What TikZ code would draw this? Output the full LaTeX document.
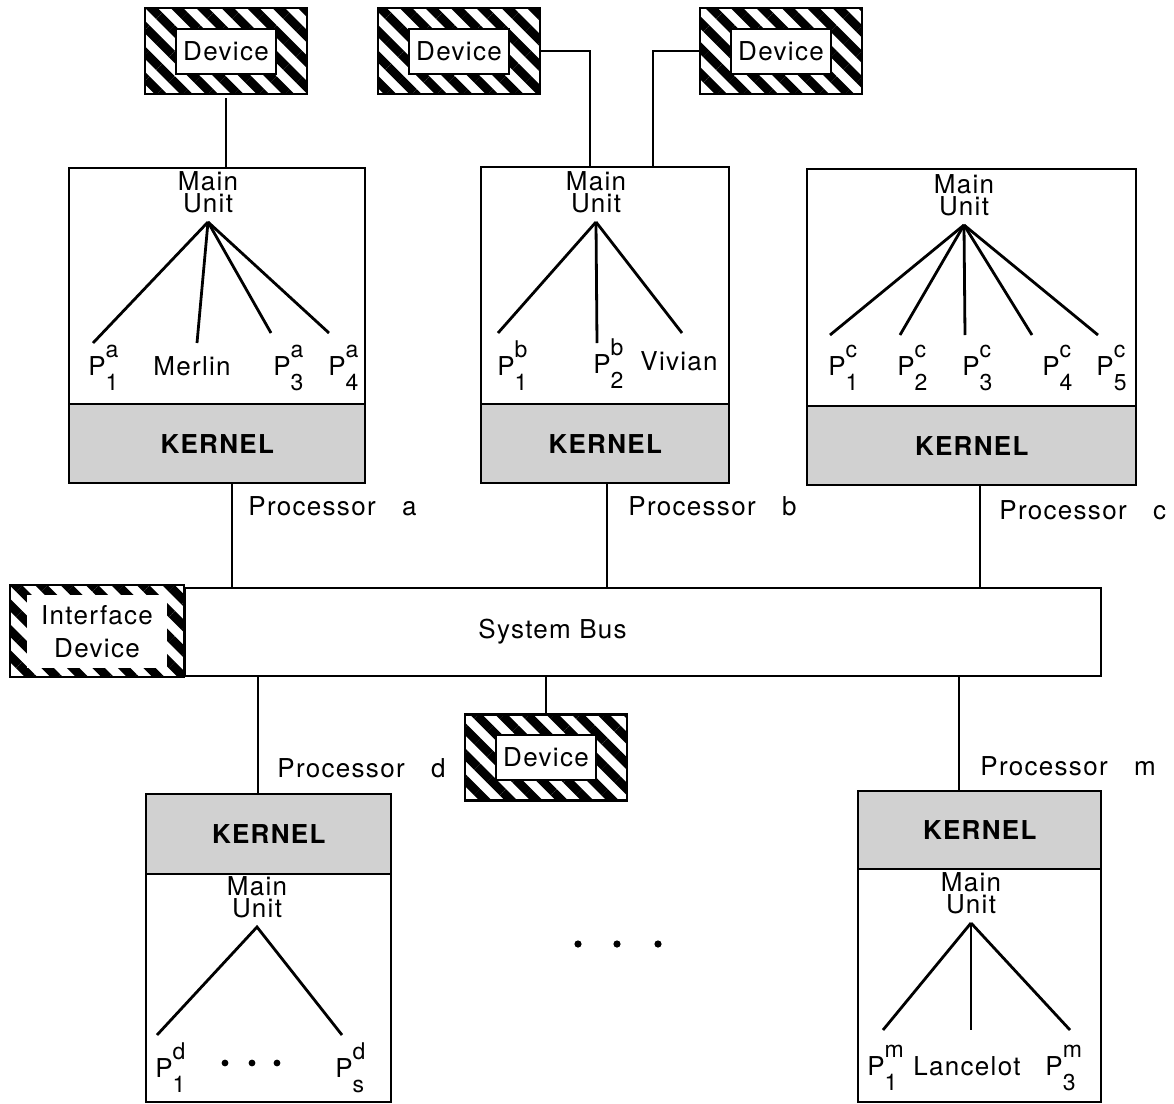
\documentclass[tikz,border=0pt]{standalone}
\usepackage{fontspec}
\setmainfont{TeX Gyre Heros}[LetterSpace=5]
\usepackage{tikz}
\usetikzlibrary{patterns.meta}

% P with a superscript and a subscript
\newcommand{\pp}[2]{P\rlap{\raisebox{9pt}{\fontsize{11.5}{11}\selectfont #1}}\raisebox{-7.5pt}{\fontsize{11.5}{11}\selectfont #2}}

\tikzset{
  txt/.style={font=\fontsize{13}{13}\selectfont, inner sep=0pt, anchor=base west},
  unitbox/.style={draw, line width=1.2pt, inner sep=0pt, anchor=north west},
  kernbox/.style={draw, line width=1.2pt, fill=black!18, inner sep=0pt, anchor=north west,
    font=\fontsize{13}{13}\selectfont\bfseries},
  hatch/.style={pattern={Lines[angle=-45,distance=9pt,line width=4.4pt]}},
  devbox/.style={draw, line width=1.2pt, hatch, inner sep=0pt, minimum width=81pt, minimum height=43pt},
  devlbl/.style={draw, line width=1pt, fill=white, inner sep=0pt, minimum width=50pt, minimum height=22.5pt,
    font=\fontsize{13}{13}\selectfont},
  mainunit/.style={font=\fontsize{13}{11}\selectfont, align=center, inner sep=0pt, outer ysep=4.5pt, anchor=south},
  link/.style={line width=1pt},
  branch/.style={line width=1.4pt},
}

\begin{document}
\begin{tikzpicture}[x=0.5pt,y=-0.5pt]
\useasboundingbox (0,0) rectangle (1174,1104);

% processors above the bus
\node[unitbox, minimum width=148pt, minimum height=157.5pt] (pa) at (68,167) {};
\node[kernbox, minimum width=148pt, minimum height=39.5pt] (ka) at (68,403) {KERNEL};
\node[unitbox, minimum width=124pt, minimum height=158pt] (pb) at (480,166) {};
\node[kernbox, minimum width=124pt, minimum height=39.5pt] (kb) at (480,403) {KERNEL};
\node[unitbox, minimum width=164.5pt, minimum height=158pt] (pc) at (806,168) {};
\node[kernbox, minimum width=164.5pt, minimum height=39.5pt] (kc) at (806,405) {KERNEL};

% processors below the bus
\node[unitbox, minimum width=122.5pt, minimum height=154pt] (pd) at (145,793) {};
\node[kernbox, minimum width=122.5pt, minimum height=40pt] (kd) at (145,793) {KERNEL};
\node[unitbox, minimum width=121.5pt, minimum height=155.5pt] (pm) at (857,790) {};
\node[kernbox, minimum width=121.5pt, minimum height=39pt] (km) at (857,790) {KERNEL};

% devices
\node[devbox] (dev1) at (226,51) {};
\node[devlbl] at (dev1) {Device};
\node[devbox] (dev2) at (459,51) {};
\node[devlbl] at (dev2) {Device};
\node[devbox] (dev3) at (781,51) {};
\node[devlbl] at (dev3) {Device};
\node[devbox] (dev4) at (546,757.5) {};
\node[devlbl] at (dev4) {Device};

% bus
\node[draw, line width=1.2pt, inner sep=0pt, anchor=north west, minimum width=458pt, minimum height=44pt] (bus) at (184,587) {};
\node[txt] (busl) at (478,638) {System Bus};
\node[draw, line width=1.2pt, hatch, inner sep=0pt, minimum width=87pt, minimum height=46pt] (ifd) at (97,631) {};
\node[fill=white, inner sep=0pt, minimum width=70pt, minimum height=36.5pt, align=center,
  font=\fontsize{13}{16.5}\selectfont] (ifl) at (97,631.5) {Interface\\Device};

% connectors
\draw[link] (dev1.south) -- (dev1.south |- pa.north);
\draw[link] (dev2.east) -| ([xshift=-7.5pt]pb.north);
\draw[link] (dev3.west) -| ([xshift=24pt]pb.north);
\draw[link] ([xshift=7.5pt]ka.south) -- ([xshift=7.5pt]ka.south |- bus.north);
\draw[link] ([xshift=1pt]kb.south) -- ([xshift=1pt]kb.south |- bus.north);
\draw[link] ([xshift=4.25pt]kc.south) -- ([xshift=4.25pt]kc.south |- bus.north);
\draw[link] ([xshift=-5.25pt]kd.north) -- ([xshift=-5.25pt]kd.north |- bus.south);
\draw[link] ([xshift=-10.25pt]km.north) -- ([xshift=-10.25pt]km.north |- bus.south);
\draw[link] (dev4.north) -- (dev4.north |- bus.south);

% processor labels
\node[txt] (lpa) at (248,515) {Processor\hspace{9pt} a};
\node[txt] (lpb) at (628,515) {Processor\hspace{9pt} b};
\node[txt] (lpc) at (999,519) {Processor\hspace{9pt} c};
\node[txt] (lpd) at (277,777) {Processor\hspace{9pt} d};
\node[txt] (lpm) at (980,775) {Processor\hspace{9pt} m};

% processor a
\node[mainunit] (mua) at (208,222) {Main\\Unit};
\foreach \n/\x/\y in {1/93/343, 2/197/343, 3/271/333, 4/329/333}
  \coordinate (ea\n) at (\x,\y);
\foreach \n in {1,...,4}
  \draw[branch] (mua.south) -- (ea\n);
\node[txt] (pa1) at (88,375) {\pp{a}{1}};
\node[txt] (merlin) at (153,375) {Merlin};
\node[txt] (pa3) at (273,375) {\pp{a}{3}};
\node[txt] (pa4) at (328,375) {\pp{a}{4}};

% processor b
\node[mainunit] (mub) at (596,222) {Main\\Unit};
\foreach \n/\x/\y in {1/498/333, 2/597/343, 3/682/333}
  \coordinate (eb\n) at (\x,\y);
\foreach \n in {1,...,3}
  \draw[branch] (mub.south) -- (eb\n);
\node[txt] (pb1) at (497,375) {\pp{b}{1}};
\node[txt] (pb2) at (593,373) {\pp{b}{2}};
\node[txt] (vivian) at (640,370) {Vivian};

% processor c
\node[mainunit] (muc) at (964,225) {Main\\Unit};
\foreach \n/\x in {1/830, 2/900, 3/965, 4/1032, 5/1098}
  \coordinate (ec\n) at (\x,335);
\foreach \n in {1,...,5}
  \draw[branch] (muc.south) -- (ec\n);
\node[txt] (pc1) at (828,375) {\pp{c}{1}};
\node[txt] (pc2) at (897,375) {\pp{c}{2}};
\node[txt] (pc3) at (962,375) {\pp{c}{3}};
\node[txt] (pc4) at (1042,375) {\pp{c}{4}};
\node[txt] (pc5) at (1096,375) {\pp{c}{5}};

% processor d
\node[mainunit] (mud) at (257,927) {Main\\Unit};
\coordinate (ed1) at (157,1035);
\coordinate (ed2) at (342,1035);
\draw[branch] (ed1) -- (mud.south) -- (ed2);
\node[txt] (pd1) at (155,1077) {\pp{d}{1}};
\node[txt] (pds) at (335,1077) {\pp{d}{s}};
\foreach \x in {225,252,277}
  \fill (\x,1063) circle (1.7pt);

% processor m
\node[mainunit] (mum) at (971,923) {Main\\Unit};
\foreach \n/\x in {1/883, 2/971, 3/1070}
  \coordinate (em\n) at (\x,1030);
\foreach \n in {1,...,3}
  \draw[branch] (mum.south) -- (em\n);
\node[txt] (pm1) at (867,1075) {\pp{m}{1}};
\node[txt] (lancelot) at (913,1075) {Lancelot};
\node[txt] (pm3) at (1045,1075) {\pp{m}{3}};

% more processors
\foreach \x in {578,617,658}
  \fill (\x,944) circle (1.8pt);
\end{tikzpicture}
\end{document}
